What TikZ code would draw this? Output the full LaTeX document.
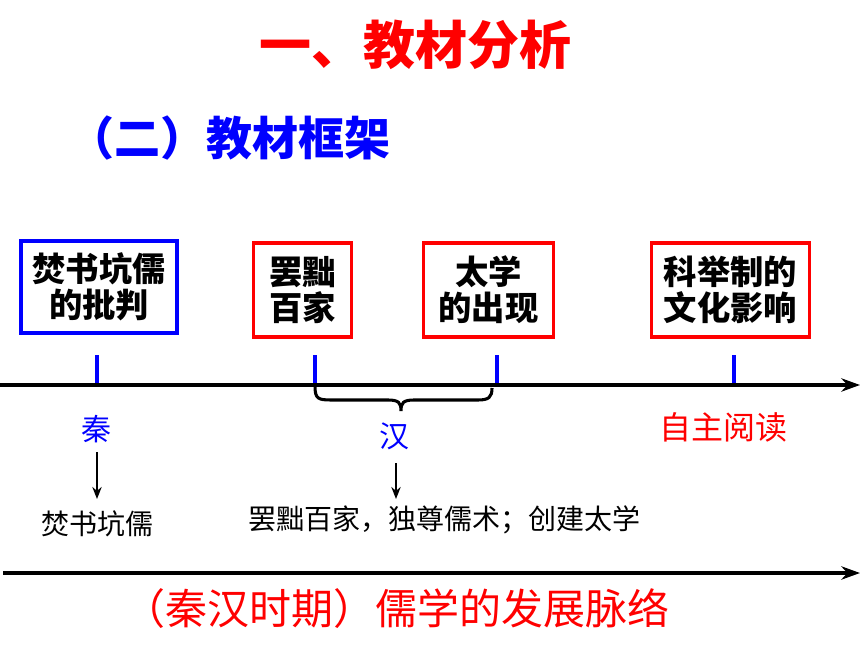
\documentclass[tikz,border=0pt]{standalone}
\usepackage{fontspec}
\newfontfamily\cjk{Noto Sans CJK SC}
\usetikzlibrary{arrows.meta}
\definecolor{myred}{RGB}{255,0,0}
\definecolor{myblue}{RGB}{0,0,255}
\tikzset{
  fs/.style={font=\cjk\fontsize{#1}{#1}\selectfont},
  fsb/.style={font=\cjk\bfseries\fontsize{#1}{#1}\selectfont},
  boxnode/.style={draw=#1, line width=2.4pt, align=center, inner sep=0pt,
    font=\cjk\bfseries\fontsize{25pt}{27pt}\selectfont, text=black},
  tickline/.style={draw=myblue, line width=2.4pt},
  axisline/.style={draw=black, line width=2.6pt, -{Stealth[length=14pt,width=10pt]}},
  downarrow/.style={draw=black, line width=1.5pt, -{Stealth[length=9pt,width=7pt]}},
  bracepath/.style={draw=black, line width=2.3pt},
  lbl/.style={inner sep=0pt},
}
\begin{document}
\begin{tikzpicture}[x=0.75pt,y=-0.75pt]
\useasboundingbox (0,0) rectangle (860,645);
\fill[white] (0,0) rectangle (860,645);
% titles
\node[lbl, fsb=39pt, text=myred] (title) at (415,45) {一、教材分析};
\node[lbl, fsb=34.5pt, text=myblue, anchor=west] (sub) at (68,138) {（二）教材框架};
% boxes
\node[boxnode=myblue, minimum width=117pt, minimum height=69pt] (b1) at (99,287) {焚书坑儒\\的批判};
\node[boxnode=myred, minimum width=74pt, minimum height=70.5pt] (b2) at (302.5,290) {罢黜\\百家};
\node[boxnode=myred, minimum width=98pt, minimum height=70.5pt] (b3) at (488.5,290) {太学\\的出现};
\node[boxnode=myred, minimum width=118pt, minimum height=70.5pt] (b4) at (730.5,290) {科举制的\\文化影响};
% axis 1
\coordinate (a1s) at (0,385);
\coordinate (a1e) at (860,385);
\draw[axisline] (a1s) -- (a1e);
% ticks
\foreach \i/\x in {1/97,2/315,3/497,4/734}{
  \coordinate (t\i a) at (\x,355);
  \coordinate (t\i b) at (\x,383);
  \draw[tickline] (t\i a) -- (t\i b);
}
% brace
\coordinate (br1) at (315,386);
\coordinate (br2) at (492,388);
\draw[bracepath] (br1) .. controls (315,399) and (318,400) .. (332,400) -- (388,400)
  .. controls (399,400) and (401,403) .. (401,411)
  .. controls (401,403) and (403,400) .. (414,400) -- (478,400)
  .. controls (489,400) and (492,397) .. (br2);
% labels
\node[lbl, fs=22.5pt, text=myblue] (qin) at (96,429) {秦};
\node[lbl, fs=22.5pt, text=myblue] (han) at (394,436) {汉};
\node[lbl, fs=24pt, text=myred] (zizhu) at (723,427) {自主阅读};
% arrows
\coordinate (q1) at (97,452);
\coordinate (q2) at (97,499);
\coordinate (h1) at (396,463);
\coordinate (h2) at (396,499);
\draw[downarrow] (q1) -- (q2);
\draw[downarrow] (h1) -- (h2);
\node[lbl, fs=21pt] (qtext) at (97,524) {焚书坑儒};
\node[lbl, fs=21pt] (htext) at (444,520) {罢黜百家，独尊儒术；创建太学};
% axis 2
\coordinate (a2s) at (3,573);
\coordinate (a2e) at (860,573);
\draw[axisline] (a2s) -- (a2e);
\node[lbl, fs=31.5pt, text=myred] (bottom) at (396,609) {（秦汉时期）儒学的发展脉络};
\end{tikzpicture}
\end{document}
